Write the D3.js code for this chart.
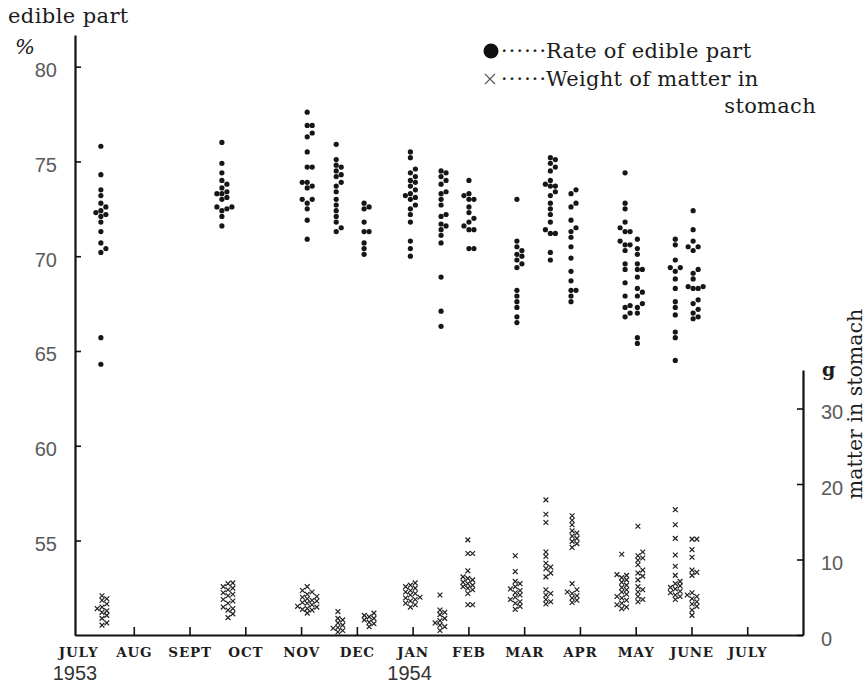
<!DOCTYPE html>
<html>
<head>
<meta charset="utf-8">
<script src="https://cdn.jsdelivr.net/npm/d3@7"></script>
<style>
  body { margin: 0; background: #fff; }
</style>
</head>
<body>
<svg width="868" height="687"></svg>
<script>
// month axis, Jul 1953 .. Jul 1954 (index 0 = JULY 1953)
var months = ["JULY", "AUG", "SEPT", "OCT", "NOV", "DEC", "JAN", "FEB", "MAR", "APR", "MAY", "JUNE", "JULY"];
var yearLabels = ["1953", "1954"];
var yearMonths = [0, 6];

var edibleTicks = [55, 60, 65, 70, 75, 80];
var stomachTicks = [0, 10, 20, 30];

// sampling dates (months after 1 July 1953)
var edibleDates = [0.41, 2.58, 4.11, 4.63, 5.13, 5.96, 6.51, 7.01, 7.87, 8.47, 8.84, 9.81, 10.03, 10.71, 11.03];
var stomachDates = [0.43, 2.69, 4.11, 4.66, 5.22, 5.96, 6.49, 6.99, 7.84, 8.39, 8.86, 9.75, 10.04, 10.71, 11.01];

// rate of edible part (%) per sample
var edibleRates = [
  [75.8, 74.3, 73.5, 73.2, 72.8, 72.6, 72.4, 72.3, 72.2, 72.1, 71.8, 71.3, 70.7, 70.4, 70.2, 65.7, 64.3],
  [76.0, 74.9, 74.4, 74.0, 73.8, 73.6, 73.4, 73.3, 73.3, 73.1, 73.0, 72.6, 72.6, 72.5, 72.4, 72.1, 71.6],
  [77.6, 76.9, 76.9, 76.5, 76.3, 75.5, 74.7, 74.7, 73.9, 73.9, 73.7, 73.6, 73.0, 73.0, 72.8, 72.5, 71.9, 70.9],
  [75.9, 75.1, 74.8, 74.7, 74.5, 74.3, 74.2, 73.9, 73.7, 73.4, 73.0, 72.7, 72.4, 72.1, 71.8, 71.5, 71.3],
  [72.8, 72.6, 72.5, 71.8, 71.3, 71.3, 70.7, 70.4, 70.1],
  [75.5, 75.2, 74.6, 74.4, 74.2, 74.0, 73.9, 73.7, 73.5, 73.3, 73.2, 73.1, 73.0, 72.7, 72.5, 72.2, 71.8, 70.8, 70.4, 70.0],
  [74.5, 74.4, 74.2, 74.0, 73.8, 73.4, 73.3, 73.0, 72.7, 72.2, 72.1, 71.7, 71.6, 71.4, 71.1, 70.7, 68.9, 67.1, 66.3],
  [74.0, 73.3, 73.2, 73.0, 73.0, 72.6, 72.3, 72.0, 71.8, 71.6, 71.4, 71.4, 70.4, 70.4],
  [73.0, 70.8, 70.5, 70.3, 70.1, 70.0, 69.8, 69.6, 69.4, 68.2, 67.9, 67.6, 67.3, 66.8, 66.5],
  [75.2, 75.1, 74.9, 74.7, 74.5, 74.0, 73.8, 73.7, 73.7, 73.4, 73.2, 72.8, 72.5, 72.2, 71.8, 71.4, 71.2, 71.2, 70.2, 69.8],
  [73.5, 73.3, 72.8, 72.6, 71.9, 71.5, 71.3, 71.0, 70.5, 69.9, 69.2, 68.7, 68.2, 68.2, 67.9, 67.6],
  [74.4, 72.8, 72.5, 71.8, 71.5, 71.3, 71.3, 70.8, 70.6, 70.6, 70.3, 69.6, 69.3, 68.6, 67.9, 67.4, 67.3, 67.0, 66.8],
  [70.9, 70.4, 70.1, 69.6, 69.3, 69.3, 68.9, 68.3, 68.1, 67.9, 67.5, 67.3, 67.0, 65.7, 65.4],
  [70.9, 70.6, 69.8, 69.4, 69.4, 69.2, 68.8, 68.3, 67.6, 67.3, 66.9, 66.0, 65.7, 64.5],
  [72.4, 71.4, 70.8, 70.5, 70.5, 70.3, 69.3, 69.1, 68.8, 68.4, 68.4, 68.3, 68.3, 67.7, 67.5, 67.2, 67.0, 66.8, 66.7]
];

// weight of matter in stomach (g) per sample
var stomachWeights = [
  [5.2, 4.8, 4.6, 4.1, 3.7, 3.5, 3.2, 3.0, 2.6, 2.2, 1.6, 1.3],
  [6.9, 6.8, 6.4, 6.2, 6.0, 5.6, 5.4, 5.2, 4.7, 4.5, 4.2, 3.7, 3.5, 3.3, 2.8, 2.3],
  [6.4, 5.9, 5.7, 5.4, 5.1, 5.0, 4.8, 4.6, 4.5, 4.3, 4.2, 4.0, 3.8, 3.7, 3.5, 3.4, 3.3, 2.9],
  [3.1, 2.2, 2.0, 1.6, 1.3, 1.0, 0.9, 0.6, 0.4],
  [2.9, 2.6, 2.4, 2.2, 2.0, 1.7, 1.5, 1.1],
  [6.9, 6.6, 6.4, 6.2, 5.9, 5.7, 5.5, 5.3, 5.0, 4.9, 4.7, 4.5, 4.2, 4.0, 3.7],
  [5.3, 3.3, 3.0, 2.7, 2.2, 1.9, 1.6, 1.3, 1.1, 0.6],
  [12.6, 10.8, 10.8, 8.5, 7.7, 7.5, 7.3, 7.0, 6.8, 6.6, 6.4, 6.2, 6.0, 5.5, 4.0, 4.0],
  [10.5, 8.4, 7.1, 6.8, 6.4, 6.1, 5.9, 5.6, 5.3, 5.0, 4.7, 4.4, 4.2, 3.8, 3.4],
  [17.9, 16.0, 14.9, 11.0, 10.4, 9.5, 9.0, 8.8, 8.2, 7.7, 6.0, 5.5, 5.3, 4.7, 4.4, 4.1],
  [15.8, 15.2, 14.6, 13.8, 13.5, 13.1, 12.8, 12.4, 12.1, 11.6, 6.8, 6.0, 5.7, 5.5, 5.2, 4.9, 4.6, 4.3],
  [10.7, 8.0, 7.9, 7.6, 7.3, 7.0, 6.6, 6.3, 6.0, 5.7, 5.4, 5.1, 4.9, 4.6, 4.2, 4.0, 3.7, 3.5],
  [14.4, 11.0, 10.5, 10.2, 9.9, 9.3, 8.6, 8.2, 7.8, 7.3, 6.4, 6.0, 5.7, 5.1, 4.7, 4.4],
  [16.6, 14.6, 12.8, 10.6, 9.1, 7.9, 7.1, 6.8, 6.5, 6.3, 6.1, 5.8, 5.6, 5.3, 5.1, 4.7],
  [12.7, 12.7, 11.3, 10.3, 8.6, 8.3, 7.9, 5.6, 5.3, 5.1, 4.8, 4.4, 4.1, 3.8, 3.3, 2.6]
];

var serif = "'DejaVu Serif', 'Liberation Serif', serif",
    numFont = "'Liberation Sans Narrow', 'Liberation Sans', sans-serif";

var svg = d3.select("svg");

var x = d3.scaleLinear().domain([-0.054, 13]).range([75, 803]);
var yL = d3.scaleLinear().domain([50, 81.67]).range([635.3, 35]);
var yR = d3.scaleLinear().domain([0, 35.1]).range([635, 370]);

// spread points of one sample sideways so they do not sit on each other
function dodge(values, y, cx, gap, step) {
  var placed = [];
  values.slice().sort(function(a, b) { return a - b; }).forEach(function(v) {
    var py = y(v);
    for (var k = 0; k < 20; k++) {
      var off = k == 0 ? 0 : (k % 2 ? 1 : -1) * Math.ceil(k / 2) * step;
      var px = cx + off;
      var ok = placed.every(function(p) { return Math.hypot(p.x - px, p.y - py) >= gap; });
      if (ok) { placed.push({x: px, y: py}); break; }
    }
  });
  return placed;
}

var dots = [];
edibleRates.forEach(function(vals, i) {
  dots = dots.concat(dodge(vals, yL, x(edibleDates[i]), 4.4, 5));
});

var crosses = [];
stomachWeights.forEach(function(vals, i) {
  crosses = crosses.concat(dodge(vals, yR, x(stomachDates[i]), 4.4, 4.8));
});

// axes
var gx = svg.append("g")
  .attr("transform", "translate(0,635)")
  .call(d3.axisBottom(x).tickValues(d3.range(13)).tickFormat(function(i) { return months[i]; })
    .tickSize(-8).tickSizeOuter(0).tickPadding(12));
gx.selectAll(".tick").filter(function(d) { return d == 0; }).select("line").remove();
gx.selectAll("text")
  .style("font-family", serif)
  .style("font-weight", "bold")
  .style("font-size", "13.5px")
  .attr("letter-spacing", 0.8)
  .attr("fill", "#1c1c1c");

var gl = svg.append("g")
  .attr("transform", "translate(75,0)")
  .call(d3.axisLeft(yL).tickValues(edibleTicks).tickSize(-6).tickSizeOuter(0).tickPadding(18));

var gr = svg.append("g")
  .attr("transform", "translate(803,0)")
  .call(d3.axisRight(yR).tickValues(stomachTicks).tickSize(-6).tickSizeOuter(0).tickPadding(18));

svg.selectAll(".tick text").filter(function() { return this.parentNode.parentNode !== gx.node(); })
  .style("font-family", numFont)
  .style("font-size", "20px")
  .attr("dy", "0.5em")
  .attr("fill", "#5a5a5a");

svg.selectAll(".domain").attr("stroke", "#111").attr("stroke-width", 2.2);
svg.selectAll(".tick line").attr("stroke", "#111").attr("stroke-width", 1.6);

svg.selectAll(".year")
  .data(yearLabels)
  .enter().append("text")
  .attr("x", function(d, i) { return x(yearMonths[i]) - 3; })
  .attr("y", 680)
  .attr("text-anchor", "middle")
  .style("font-family", numFont)
  .style("font-size", "20px")
  .attr("fill", "#333")
  .text(function(d) { return d; });

// marks
svg.append("g").selectAll("circle")
  .data(dots)
  .enter().append("circle")
  .attr("cx", function(d) { return d.x; })
  .attr("cy", function(d) { return d.y; })
  .attr("r", 2.6)
  .attr("fill", "#161616");

var s = 2.4;
svg.append("g").selectAll("path")
  .data(crosses)
  .enter().append("path")
  .attr("d", function(d) {
    return "M" + (d.x - s) + "," + (d.y - s) + "L" + (d.x + s) + "," + (d.y + s) +
      "M" + (d.x - s) + "," + (d.y + s) + "L" + (d.x + s) + "," + (d.y - s);
  })
  .attr("stroke", "#222")
  .attr("stroke-width", 1.2)
  .attr("fill", "none");

// titles
function label(xp, yp, size, txt) {
  return svg.append("text")
    .attr("x", xp).attr("y", yp)
    .style("font-family", serif)
    .style("font-size", size + "px")
    .attr("fill", "#1c1c1c")
    .text(txt);
}
label(8, 23, 21, "edible part").attr("letter-spacing", 0.4);
label(15, 54, 21, "%").style("font-style", "italic");
label(822, 376, 19, "g").style("font-weight", "bold");
label(0, 0, 20.5, "matter in stomach")
  .attr("transform", "translate(862,404) rotate(-90)")
  .attr("text-anchor", "middle");

// legend
svg.append("circle").attr("cx", 491).attr("cy", 51).attr("r", 7.5).attr("fill", "#111");
svg.append("path")
  .attr("d", "M485,74L495,84M485,84L495,74")
  .attr("stroke", "#555").attr("stroke-width", 1.1);
label(501, 58, 20.5, "\u00b7\u00b7\u00b7\u00b7\u00b7\u00b7").attr("letter-spacing", 1.2);
label(546, 58, 21, "Rate of edible part").attr("letter-spacing", 0.3);
label(501, 86, 20.5, "\u00b7\u00b7\u00b7\u00b7\u00b7\u00b7").attr("letter-spacing", 1.2);
label(546, 86, 21, "Weight of matter in").attr("letter-spacing", 0.3);
label(816, 113, 21, "stomach").attr("text-anchor", "end").attr("letter-spacing", 0.3);
</script>
</body>
</html>
